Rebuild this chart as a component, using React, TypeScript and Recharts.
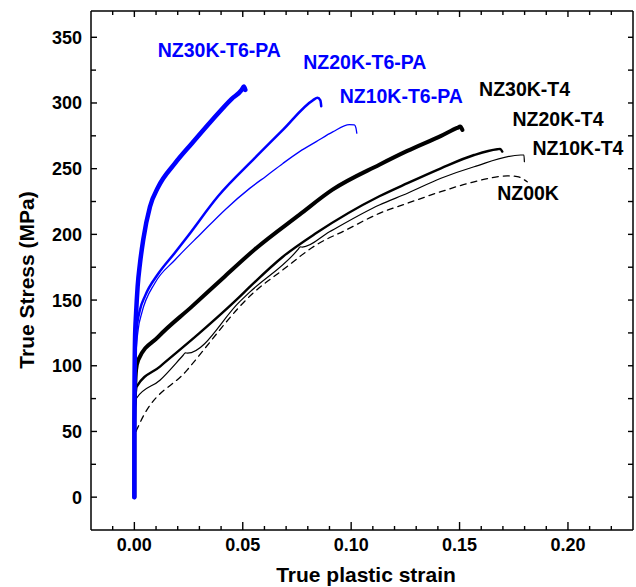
import { Label, Line, LineChart, ReferenceDot, XAxis, YAxis } from 'recharts'

const FONT = '"Liberation Sans", Arial, Helvetica, sans-serif'
const BLUE = '#0000ff'
const BLACK = '#000000'

// strain, stress (MPa)
const nz30kT6PA = [
  [0, 0], [0.00001, 40], [0.00005, 80], [0.0003, 120], [0.0008, 140], [0.0015, 160], [0.0026, 178],
  [0.0041, 196], [0.0072, 221], [0.011, 236], [0.0187, 254], [0.0264, 269], [0.0356, 286.5],
  [0.0448, 303], [0.0495, 310], [0.0505, 312.5], [0.0512, 310],
]
const nz20kT6PA = [
  [0, 0], [0.0002, 60], [0.0006, 110], [0.001, 127], [0.0025, 142], [0.0049, 153], [0.011, 170],
  [0.0187, 186], [0.0248, 199], [0.0386, 229], [0.0555, 258], [0.0685, 279.5], [0.0823, 302],
  [0.0845, 304], [0.0858, 302], [0.0862, 297.5],
]
const nz10kT6PA = [
  [0, 0], [0.00002, 60], [0.0008, 110], [0.0018, 128], [0.0034, 140], [0.0095, 163], [0.0187, 180.5],
  [0.031, 201], [0.042, 219], [0.0532, 235], [0.0609, 244.5], [0.0685, 254], [0.0762, 263],
  [0.0839, 270.6], [0.0915, 278], [0.0992, 283.5], [0.1015, 283.3], [0.1022, 281], [0.1026, 277],
]
const nz30kT4 = [
  [0, 0], [0.00001, 58.8], [0.0008, 96.9], [0.0018, 104.5], [0.011, 122], [0.0265, 145], [0.0417, 168],
  [0.0555, 188.5], [0.0762, 215], [0.0914, 234], [0.113, 253], [0.1259, 263.5], [0.1415, 275],
  [0.1489, 281], [0.1503, 282], [0.1513, 279.5],
]
const nz20kT4 = [
  [0, 0], [0.00001, 59], [0.0006, 78], [0.001, 84], [0.0118, 99.4], [0.03, 124.8], [0.0486, 152.6],
  [0.0532, 160], [0.0685, 183], [0.0839, 201], [0.113, 229], [0.126, 239], [0.1414, 250.3],
  [0.1567, 260.4], [0.1674, 264.8], [0.1687, 265], [0.1697, 263],
]
const nz10kT4 = [
  [0, 0], [0.00001, 51], [0.001, 75.3], [0.0118, 89], [0.0225, 108], [0.0235, 109.8], [0.0245, 109.6],
  [0.0486, 148.8], [0.0532, 156], [0.0755, 188.5], [0.0765, 190.5], [0.0775, 190.3], [0.09, 202],
  [0.113, 222.4], [0.126, 231.3], [0.1414, 242.7], [0.1567, 251.5], [0.1782, 260.4],
  [0.1797, 260.4], [0.1799, 255.3],
]
const nz00k = [
  [0, 0], [0.0005, 48], [0.0018, 53.7], [0.0241, 96.3], [0.0555, 156.4], [0.0685, 173],
  [0.0839, 192], [0.0977, 203.4], [0.113, 216], [0.126, 223.7], [0.1414, 232.5], [0.1567, 240],
  [0.172, 244.5], [0.1766, 244], [0.1812, 240],
]

const xTicks = [
  -0.01, 0, 0.01, 0.02, 0.03, 0.04, 0.05, 0.06, 0.07, 0.08, 0.09, 0.1, 0.11, 0.12,
  0.13, 0.14, 0.15, 0.16, 0.17, 0.18, 0.19, 0.2, 0.21, 0.22,
]
const yTicks = [0, 25, 50, 75, 100, 125, 150, 175, 200, 225, 250, 275, 300, 325, 350]

const curveLabels = [
  { text: 'NZ30K-T6-PA', x: 0.0392, y: 340.4, color: BLUE },
  { text: 'NZ20K-T6-PA', x: 0.1063, y: 331.2, color: BLUE },
  { text: 'NZ10K-T6-PA', x: 0.1231, y: 305.4, color: BLUE },
  { text: 'NZ30K-T4', x: 0.18, y: 310.7, color: BLACK },
  { text: 'NZ20K-T4', x: 0.1954, y: 287.6, color: BLACK },
  { text: 'NZ10K-T4', x: 0.2046, y: 265.5, color: BLACK },
  { text: 'NZ00K', x: 0.1816, y: 231.8, color: BLACK },
]

const curves = [
  { name: 'NZ00K', pts: nz00k, color: BLACK, width: 1.3, dash: '6 5' },
  { name: 'NZ10K-T4', pts: nz10kT4, color: BLACK, width: 1.2 },
  { name: 'NZ20K-T4', pts: nz20kT4, color: BLACK, width: 2.4 },
  { name: 'NZ30K-T4', pts: nz30kT4, color: BLACK, width: 4 },
  { name: 'NZ10K-T6-PA', pts: nz10kT6PA, color: BLUE, width: 1.3 },
  { name: 'NZ20K-T6-PA', pts: nz20kT6PA, color: BLUE, width: 2.5 },
  { name: 'NZ30K-T6-PA', pts: nz30kT6PA, color: BLUE, width: 4.5 },
]

const isMajorX = (v: number) => Math.abs(v * 20 - Math.round(v * 20)) < 1e-6
const isMajorY = (v: number) => v % 50 === 0

function BottomTick({ x, y, payload }: any) {
  const major = isMajorX(payload.value)
  return (
    <g>
      <line x1={x} x2={x} y1={y} y2={y - (major ? 8 : 4)} stroke={BLACK} strokeWidth={1.4} />
      {major && (
        <text x={x} y={y + 21} textAnchor="middle" fontFamily={FONT} fontWeight="bold" fontSize={18} fill={BLACK}>
          {payload.value.toFixed(2)}
        </text>
      )}
    </g>
  )
}

function TopTick({ x, y, payload }: any) {
  const major = isMajorX(payload.value)
  return <line x1={x} x2={x} y1={y} y2={y + (major ? 6 : 4)} stroke={BLACK} strokeWidth={1.4} />
}

function LeftTick({ x, y, payload }: any) {
  const major = isMajorY(payload.value)
  return (
    <g>
      <line x1={x} x2={x + (major ? 6 : 5)} y1={y} y2={y} stroke={BLACK} strokeWidth={1.4} />
      {major && (
        <text x={x - 9} y={y + 6.5} textAnchor="end" fontFamily={FONT} fontWeight="bold" fontSize={18} fill={BLACK}>
          {payload.value}
        </text>
      )}
    </g>
  )
}

function RightTick({ x, y }: any) {
  return <line x1={x} x2={x - 5} y1={y} y2={y} stroke={BLACK} strokeWidth={1.4} />
}

export default function App() {
  const axisLine = { stroke: BLACK, strokeWidth: 1.5 }
  return (
    <div style={{ position: 'absolute', left: 0, top: 0, background: '#fff' }}>
      <LineChart width={636} height={587} margin={{ top: 10, right: 2, bottom: 0, left: 0 }}>
        <XAxis
          xAxisId="b"
          dataKey="x"
          type="number"
          domain={[-0.02, 0.23]}
          allowDataOverflow
          ticks={xTicks}
          interval={0}
          tickSize={0}
          tickMargin={0}
          tickLine={false}
          tick={<BottomTick />}
          axisLine={axisLine}
          height={57}
        >
          <Label
            content={() => (
              <text x={366} y={582} textAnchor="middle" fontFamily={FONT} fontWeight="bold" fontSize={21} fill={BLACK}>
                True plastic strain
              </text>
            )}
          />
        </XAxis>
        <XAxis
          xAxisId="t"
          dataKey="x"
          orientation="top"
          type="number"
          domain={[-0.02, 0.23]}
          allowDataOverflow
          ticks={xTicks}
          interval={0}
          tickSize={0}
          tickMargin={0}
          tickLine={false}
          tick={<TopTick />}
          axisLine={axisLine}
          height={1}
        />
        <YAxis
          yAxisId="l"
          type="number"
          domain={[-25, 370]}
          allowDataOverflow
          ticks={yTicks}
          interval={0}
          tickSize={0}
          tickMargin={0}
          tickLine={false}
          tick={<LeftTick />}
          axisLine={axisLine}
          width={91}
        >
          <Label
            content={() => (
              <text
                x={0}
                y={0}
                transform="translate(34 280) rotate(-90)"
                textAnchor="middle"
                fontFamily={FONT}
                fontWeight="bold"
                fontSize={21}
                fill={BLACK}
              >
                True Stress (MPa)
              </text>
            )}
          />
        </YAxis>
        <YAxis
          yAxisId="r"
          orientation="right"
          type="number"
          domain={[-25, 370]}
          allowDataOverflow
          ticks={yTicks}
          interval={0}
          tickSize={0}
          tickMargin={0}
          tickLine={false}
          tick={<RightTick />}
          axisLine={axisLine}
          width={1}
        />
        {/* invisible series so the top and right frame axes get drawn */}
        <Line
          xAxisId="t"
          yAxisId="r"
          data={nz00k.map(([x, y]) => ({ x, y }))}
          dataKey="y"
          stroke="none"
          dot={false}
          activeDot={false}
          isAnimationActive={false}
        />
        {curves.map((c) => (
          <Line
            key={c.name}
            xAxisId="b"
            yAxisId="l"
            data={c.pts.map(([x, y]) => ({ x, y }))}
            dataKey="y"
            type="monotoneX"
            stroke={c.color}
            strokeWidth={c.width}
            strokeDasharray={c.dash}
            strokeLinejoin="round"
            strokeLinecap="round"
            dot={false}
            activeDot={false}
            isAnimationActive={false}
          />
        ))}
        {curveLabels.map((l) => (
          <ReferenceDot
            key={l.text}
            xAxisId="b"
            yAxisId="l"
            x={l.x}
            y={l.y}
            r={0}
            fill="none"
            stroke="none"
            ifOverflow="visible"
            label={{
              value: l.text,
              position: 'center',
              fill: l.color,
              fontSize: 19.5,
              fontWeight: 'bold',
              fontFamily: FONT,
            }}
          />
        ))}
      </LineChart>
    </div>
  )
}
